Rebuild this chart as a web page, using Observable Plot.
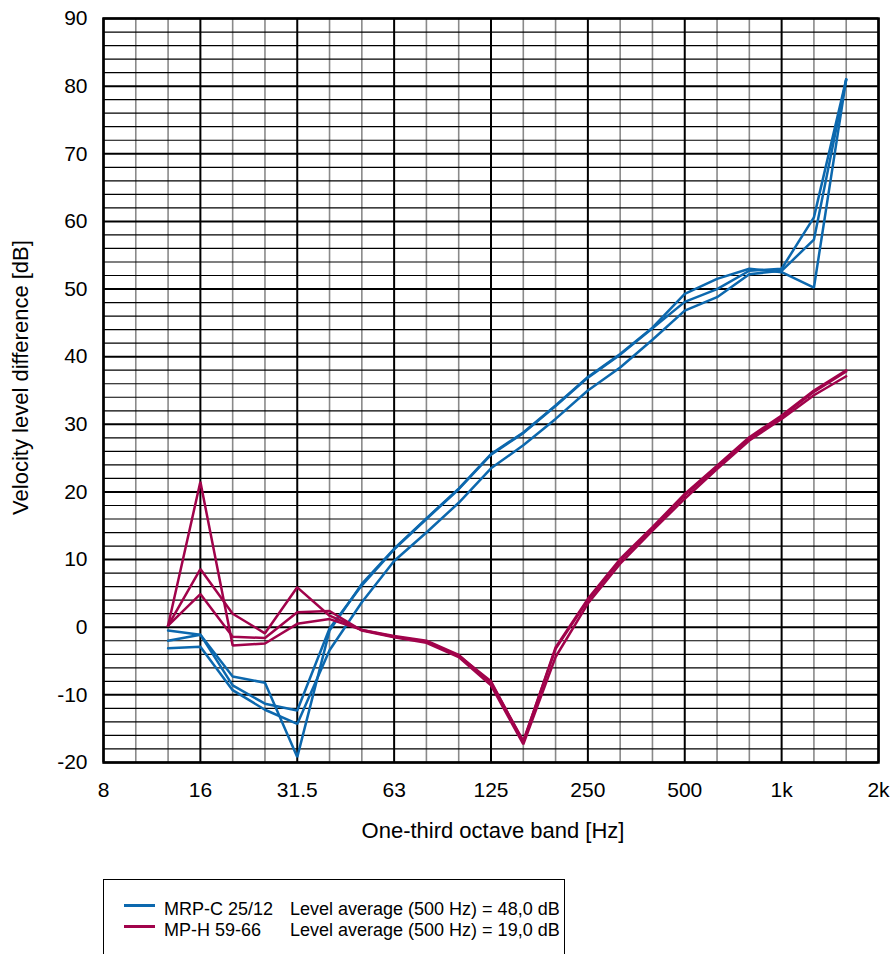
<!DOCTYPE html>
<html><head><meta charset="utf-8">
<script src="https://cdn.jsdelivr.net/npm/d3@7"></script>
<script src="https://cdn.jsdelivr.net/npm/@observablehq/plot@0.6"></script>
<style>
body{margin:0;background:#fff;font-family:"Liberation Sans",Arial,sans-serif;}
#wrap{position:relative;width:894px;height:954px;overflow:hidden;}
.legend{position:absolute;left:103px;top:879px;width:462px;height:120px;border:1.5px solid #000;box-sizing:border-box;font-size:18px;color:#000;}
.row{position:absolute;left:0;height:20px;line-height:20px;white-space:nowrap;}
.sw{position:absolute;left:20px;top:5px;width:31px;height:3px;}
.t1{position:absolute;left:60px;top:0;}
.t2{position:absolute;left:186px;top:0;}
</style></head>
<body><div id="wrap"><div id="chart"></div>
<div class="legend" id="legend"></div></div>
<script>
// one-third octave bands on the axis (8 Hz .. 2 kHz)
const bands = ["8","10","12.5","16","20","25","31.5","40","50","63","80","100","125","160","200","250","315","400","500","630","800","1k","1.25k","1.6k","2k"];
const xTickLabels = ["8","16","31.5","63","125","250","500","1k","2k"];
const yTicks = [-20,-10,0,10,20,30,40,50,60,70,80,90];
// measured bands: 12.5 Hz .. 1600 Hz (index 2 .. 23)
const firstBand = 2;

const mrpcA = [-0.5,-1.1,-7.3,-8.2,-19.2,-0.5,6.4,11.6,16.1,20.5,25.6,28.8,32.8,37.0,40.4,44.3,49.3,51.5,53.0,52.5,50.2,81.0];
const mrpcB = [-2.0,-1.1,-8.6,-11.3,-12.3,-0.2,6.2,11.5,16.0,20.4,25.5,28.7,32.7,36.9,40.3,44.2,48.1,50.0,52.7,53.0,60.6,81.0];
const mrpcC = [-3.1,-2.9,-9.3,-12.2,-14.3,-3.4,3.7,9.8,14.0,18.4,23.5,26.9,30.8,35.0,38.4,42.5,46.8,48.8,52.2,52.7,57.3,81.0];

const mphA = [0.25,21.5,-2.7,-2.4,0.5,1.2,-0.4,-1.4,-2.1,-4.2,-8.0,-17.0,-3.0,4.2,10.1,14.8,19.7,23.9,28.1,31.3,35.0,38.0];
const mphB = [0.25,8.6,2.0,-0.9,5.9,1.7,-0.4,-1.3,-2.0,-4.1,-8.2,-16.8,-3.2,4.0,9.9,14.6,19.5,23.7,27.9,31.1,34.8,37.8];
const mphC = [0.25,4.9,-1.4,-1.6,2.2,2.4,-0.5,-1.5,-2.3,-4.4,-8.6,-17.3,-4.4,3.5,9.4,14.3,19.0,23.4,27.6,30.8,34.3,37.1];

const seriesNames = ["MRP-C 25/12","MP-H 59-66"];
const legendTexts = ["Level average (500 Hz) = 48,0 dB","Level average (500 Hz) = 19,0 dB"];
const colors = ["#0c68ae","#a1034b"];
const xLabel = "One-third octave band [Hz]";
const yLabel = "Velocity level difference [dB]";

const groups = [
  {name: seriesNames[0], runs: [mrpcA, mrpcB, mrpcC]},
  {name: seriesNames[1], runs: [mphA, mphB, mphC]}
];
const rows = [];
groups.forEach((g, gi) => g.runs.forEach((vals, ri) => vals.forEach((v, i) => {
  rows.push({x: i + firstBand, y: v, group: g.name, run: g.name + ri});
})));

const allIdx = d3.range(0, bands.length);
const octIdx = allIdx.filter(i => i % 3 === 0);
const thirdIdx = allIdx.filter(i => i % 3 !== 0);
const minorY = d3.range(-20, 91, 2).filter(v => v % 10 !== 0);

const chart = Plot.plot({
  width: 894, height: 862,
  marginLeft: 103, marginRight: 16, marginTop: 18, marginBottom: 100,
  style: {fontFamily: '"Liberation Sans", Arial, sans-serif', fontSize: "21px", color: "#000", background: "#fff"},
  x: {type: "linear", domain: [0, bands.length - 1]},
  y: {domain: [-20, 90]},
  color: {domain: seriesNames, range: colors},
  marks: [
    Plot.ruleX(thirdIdx, {stroke: "#8a8a8a", strokeWidth: 1.6, strokeOpacity: 1}),
    Plot.ruleY(minorY, {stroke: "#000", strokeWidth: 1.2}),
    Plot.ruleX(octIdx, {stroke: "#000", strokeWidth: 2}),
    Plot.ruleY(yTicks, {stroke: "#000", strokeWidth: 2}),
    Plot.frame({stroke: "#000", strokeWidth: 2.5}),
    Plot.line(rows, {x: "x", y: "y", z: "run", stroke: "group", strokeWidth: 2.5, strokeLinejoin: "miter", curve: "linear"}),
    Plot.axisX(octIdx, {tickFormat: i => xTickLabels[octIdx.indexOf(i)], tickSize: 0, tickPadding: 20, label: null, fontSize: 21}),
    Plot.axisY(yTicks, {tickFormat: d => d.toString(), tickSize: 0, tickPadding: 16, label: null, fontSize: 21}),
    Plot.text([xLabel], {frameAnchor: "bottom", dx: 2, dy: 75, fontSize: 22}),
    Plot.text([yLabel], {frameAnchor: "left", textAnchor: "middle", dx: -83, dy: -13, rotate: -90, fontSize: 22})
  ]
});
document.getElementById("chart").appendChild(chart);

const leg = document.getElementById("legend");
seriesNames.forEach((n, i) => {
  const r = document.createElement("div");
  r.className = "row";
  r.style.top = (19 + i * 21) + "px";
  r.style.width = "100%";
  r.innerHTML = `<div class="sw" style="background:${colors[i]}"></div><span class="t1">${n}</span><span class="t2">${legendTexts[i]}</span>`;
  leg.appendChild(r);
});
</script></body></html>
